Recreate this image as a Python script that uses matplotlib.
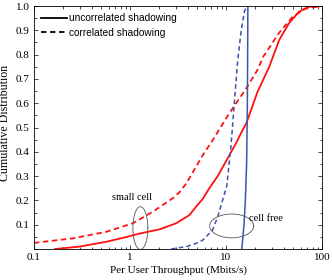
import numpy as np
import matplotlib
matplotlib.use('Agg')
from matplotlib import pyplot as plt
from matplotlib.ticker import MultipleLocator, FixedLocator, FixedFormatter, LogLocator, NullFormatter

# per user throughput (Mbits/s) vs cumulative distribution
sc_uncorr_x = [0.166, 0.30, 0.57, 0.89, 1.27, 2.04, 3.03, 4.17, 4.9, 5.7, 6.7, 8.2, 10.4, 12.7,
               14.9, 16.2, 21.3, 28.2, 35.8, 45.5, 57.8, 73.0, 100.0]
sc_uncorr_y = [0.0, 0.01, 0.03, 0.048, 0.064, 0.081, 0.106, 0.14, 0.175, 0.205, 0.25, 0.30, 0.373, 0.435,
               0.49, 0.515, 0.647, 0.75, 0.86, 0.93, 0.977, 0.997, 1.0]

sc_corr_x = [0.1, 0.256, 0.57, 1.07, 1.74, 2.79, 3.3, 3.86, 4.9, 5.7, 7.3, 10.8, 16.2, 21.3,
             24.3, 35.8, 49.5, 68.0, 100.0]
sc_corr_y = [0.025, 0.044, 0.071, 0.106, 0.154, 0.209, 0.235, 0.27, 0.34, 0.385, 0.449, 0.558, 0.66, 0.737,
             0.79, 0.89, 0.956, 0.99, 1.0]

cf_uncorr_x = [14.6, 15.0, 15.4, 15.9, 16.4, 16.7, 16.8, 16.9]
cf_uncorr_y = [0.0, 0.05, 0.1, 0.2, 0.35, 0.6, 0.8, 1.0]

cf_corr_x = [2.69, 3.86, 4.9, 5.75, 7.25, 8.2, 9.2, 10.2, 10.7, 11.3, 12.2, 13.2, 14.4, 15.6, 16.7]
cf_corr_y = [0.0, 0.01, 0.023, 0.037, 0.078, 0.133, 0.2, 0.26, 0.34, 0.43, 0.6, 0.77, 0.9, 0.98, 1.0]

x_ticks = [0.1, 1, 10, 100]
x_labels = ['0.1', '1', '10', '100']
y_ticks = [0.1, 0.2, 0.3, 0.4, 0.5, 0.6, 0.7, 0.8, 0.9, 1.0]

red = '#ff1010'
blue = '#3a55b0'
serif = ['Liberation Serif', 'DejaVu Serif']
sans = ['Liberation Sans', 'DejaVu Sans']

fig = plt.figure(figsize=(3.32, 2.8), dpi=100)
ax = fig.add_axes([34 / 332, 31 / 280, 288 / 332, 243 / 280])

ax.plot(sc_uncorr_x, sc_uncorr_y, color=red, lw=1.3, label='uncorrelated shadowing')
ax.plot(sc_corr_x, sc_corr_y, color=red, lw=1.3, ls=(0, (3, 2)), label='correlated shadowing')
ax.plot(cf_uncorr_x, cf_uncorr_y, color=blue, lw=1.1)
ax.plot(cf_corr_x, cf_corr_y, color=blue, lw=1.1, ls=(0, (3, 2)))

# annotation ellipses (centre in log10 x, half widths)
t = np.linspace(0, 2 * np.pi, 200)
for cx, cy, a, b in [(0.108, 0.086, 0.078, 0.088), (1.059, 0.095, 0.229, 0.049)]:
    ax.plot(10 ** (cx + a * np.cos(t)), cy + b * np.sin(t), color='#555555', lw=0.6)
ax.text(1.05, 0.212, 'small cell', fontsize=7.5, family=serif, ha='center', va='center')
ax.text(17.3, 0.124, 'cell free', fontsize=7.5, family=serif, ha='left', va='center')

ax.set_xscale('log')
ax.set_xlim(0.1, 100)
ax.set_ylim(0, 1)
ax.xaxis.set_major_locator(FixedLocator(x_ticks))
ax.xaxis.set_major_formatter(FixedFormatter(x_labels))
ax.xaxis.set_minor_locator(LogLocator(base=10, subs=np.arange(2, 10)))
ax.xaxis.set_minor_formatter(NullFormatter())
ax.yaxis.set_major_locator(FixedLocator(y_ticks))
ax.yaxis.set_minor_locator(MultipleLocator(0.05))
ax.tick_params(which='both', direction='in', top=True, right=True, labelsize=8, width=0.5)
ax.tick_params(which='major', length=3, pad=3)
ax.tick_params(which='minor', length=1.8)
for lab in ax.get_xticklabels() + ax.get_yticklabels():
    lab.set_family(serif)
for s in ax.spines.values():
    s.set_linewidth(0.6)

ax.set_xlabel('Per User Throughput (Mbits/s)', fontsize=8, family=serif, labelpad=2)
ax.set_ylabel('Cumulative Distribution', fontsize=8.6, family=serif)
ax.yaxis.set_label_coords(-0.08, 0.52)

leg = ax.legend(loc='upper left', frameon=False, handlelength=2.6, handletextpad=0.2,
                borderaxespad=0.3, labelspacing=0.45, prop={'family': sans, 'size': 7.3})
for h in leg.get_lines():
    h.set_color('black')
    h.set_linewidth(1.3)

fig.savefig('out.png', dpi=100)
